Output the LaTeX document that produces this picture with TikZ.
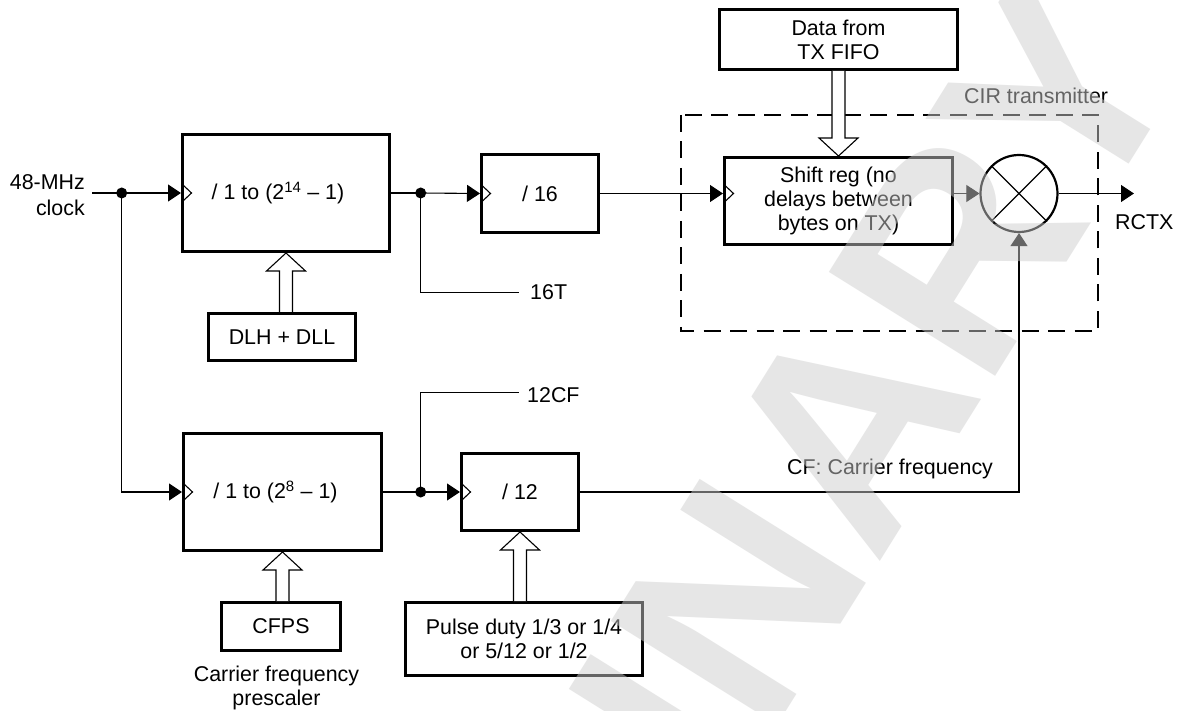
\documentclass[tikz,border=0pt]{standalone}
\usepackage{fontspec}
\setmainfont{Liberation Sans}
\usetikzlibrary{arrows.meta,calc}
\definecolor{wmc}{RGB}{204,204,204}
\tikzset{
  every node/.style={font=\fontsize{21.4}{24}\selectfont},
  blk/.style={draw, line width=3pt, fill=white, align=center, inner sep=0pt},
  thinln/.style={line width=1.1pt},
  arr/.style={line width=1.1pt, -{Triangle[length=13pt,width=17pt]}},
  hol/.style={line width=1.1pt, fill=white, line join=miter},
  jdot/.style={circle, fill=black, inner sep=0pt, minimum size=11pt},
  lbl/.style={inner sep=0pt},
}
\newcommand\clksym[1]{\draw[thinln] ($(#1)+(1.5pt,8.5pt)$) -- ++(9pt,-8.5pt) -- ++(-9pt,-8.5pt);}
% hollow arrow pointing up: #1 source anchor (below), #2 tip anchor
\newcommand\holup[2]{\draw[hol] let \p1=(#1), \p2=(#2) in
  (\x2-6.5pt,\y1) -- (\x2-6.5pt,\y2-18pt) -- (\x2-19.5pt,\y2-18pt) -- (\x2,\y2)
  -- (\x2+19.5pt,\y2-18pt) -- (\x2+6.5pt,\y2-18pt) -- (\x2+6.5pt,\y1);}
\newcommand\holdown[2]{\draw[hol] let \p1=(#1), \p2=(#2) in
  (\x2-6.5pt,\y1) -- (\x2-6.5pt,\y2+18pt) -- (\x2-19.5pt,\y2+18pt) -- (\x2,\y2)
  -- (\x2+19.5pt,\y2+18pt) -- (\x2+6.5pt,\y2+18pt) -- (\x2+6.5pt,\y1);}
\begin{document}
\begin{tikzpicture}[x=1pt,y=-1pt]
\fill[white] (0,0) rectangle (1179,711);
\useasboundingbox (0,0) rectangle (1179,711);

% dashed CIR transmitter frame
\draw[line width=2.6pt, dash pattern=on 17pt off 9.5pt] (681,115) rectangle (1098,331);
\node[lbl, anchor=base west] (cirlbl) at (964,103.3) {CIR transmitter};

% blocks
\node[blk, minimum width=207pt, minimum height=117pt] (A) at (286,193) {\hspace*{-16pt}/ 1 to (2\textsuperscript{14} -- 1)};
\node[blk, minimum width=117pt, minimum height=78pt] (B) at (540,193.5) {/ 16};
\node[blk, minimum width=228pt, minimum height=87pt] (S) at (838.5,201) {Shift reg (no\\delays between\\bytes on TX)};
\node[blk, minimum width=238pt, minimum height=60pt] (F) at (838.5,39.5) {Data from\\TX FIFO};
\node[blk, minimum width=147pt, minimum height=47pt] (DL) at (282,337) {DLH + DLL};
\node[blk, minimum width=198pt, minimum height=117pt] (C) at (282.5,492) {\hspace*{-14pt}/ 1 to (2\textsuperscript{8} -- 1)};
\node[blk, minimum width=117pt, minimum height=77pt] (D) at (520,492) {/ 12};
\node[blk, minimum width=119pt, minimum height=48pt] (CF) at (281,626.5) {CFPS};
\node[blk, minimum width=237pt, minimum height=73pt] (P) at (524,639) {Pulse duty 1/3 or 1/4\\or 5/12 or 1/2};
\node[draw, circle, line width=2.2pt, fill=white, minimum size=77pt, inner sep=0pt] (M) at (1019,193.5) {};
\draw[thinln] (M.45) -- (M.225) (M.135) -- (M.315);

% labels
\node[lbl, anchor=east, align=right] (clk) at (85,195) {48-MHz\\[2.5pt]clock};
\node[lbl, align=center] (cfpslbl) at (276.5,688) {Carrier frequency\\prescaler};
\node[lbl, anchor=base west] (l16) at (530,299.3) {16T};
\node[lbl, anchor=base west] (l12) at (527,402.3) {12CF};
\node[lbl, anchor=base west] (lcf) at (787,475) {CF: Carrier frequency};
\node[lbl, anchor=base west] (lrc) at (1115,230) {RCTX};

% junction dots
\node[jdot] (j1) at (121.7,193) {};
\node[jdot] (j2) at (420.7,193) {};
\node[jdot] (j3) at (420.7,492) {};
\coordinate (clkin) at (92,193);
\coordinate (t16) at (519,292.3);
\coordinate (t12) at (519,392.3);
\coordinate (rctx) at (1134,193.5);

% connectors
\draw[thinln] (clkin) -- (j1.center);
\draw[arr] (j1.center) -- (A.west);
\draw[arr] (j1.center) |- (C.west);
\draw[thinln] (A.east) -- (j2.center);
\draw[arr] (j2.center) -- (B.west);
\draw[thinln] (j2.center) |- (t16);
\draw[thinln] (C.east) -- (j3.center);
\draw[arr] (j3.center) -- (D.west);
\draw[thinln] (j3.center) |- (t12);
\draw[arr] (B.east) -- (B.east -| S.west);
\draw[arr] (S.east |- M.west) -- (M.west);
\draw[arr] (M.east) -- (rctx);
\draw[arr] (D.east) -| (M.south);

% clock input symbols
\clksym{A.west}
\clksym{B.west}
\clksym{S.west |- B.west}
\clksym{C.west}
\clksym{D.west}

% hollow bus arrows
\holup{DL.north}{A.south}
\holup{CF.north}{C.south}
\holup{P.north}{D.south}
\holdown{F.south}{S.north}

% watermark
\begin{scope}
\clip (0,0) rectangle (1179,711);
\node[text=wmc, text opacity=0.49, rotate=58, anchor=base east, inner sep=0pt,
  font=\fontsize{285}{285}\selectfont\bfseries] (wm) at (1190,66) {PRELIMINARY};
\end{scope}
\end{tikzpicture}
\end{document}
